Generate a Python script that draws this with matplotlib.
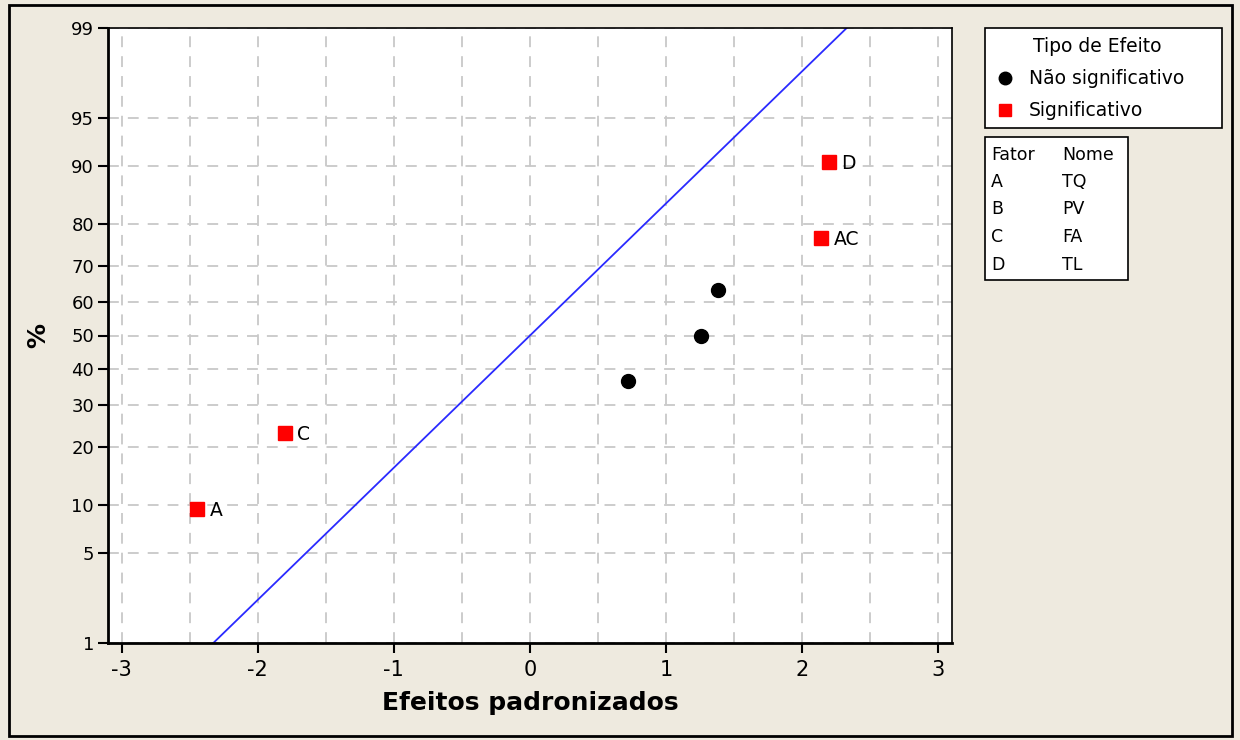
import matplotlib
matplotlib.use("Agg")
import matplotlib.pyplot as plt
from matplotlib.patches import Rectangle
from matplotlib.lines import Line2D
from statistics import NormalDist

nd = NormalDist()

# efeitos padronizados e percentis (Minitab, n = 7)
nomes = ["A", "C", "", "", "", "AC", "D"]
efeitos = [-2.445, -1.80, 0.72, 1.255, 1.38, 2.14, 2.195]
percentis = [9.46, 22.97, 36.49, 50.0, 63.51, 77.03, 90.54]
signif = [True, True, False, False, False, True, True]

# reta de referencia (media e desvio)
reta_media = 0.0
reta_dp = 1.0

y_ticks = [1, 5, 10, 20, 30, 40, 50, 60, 70, 80, 90, 95, 99]
x_ticks = [-3, -2, -1, 0, 1, 2, 3]

fatores = ["A", "B", "C", "D"]
fator_nomes = ["TQ", "PV", "FA", "TL"]

bg = "#EEEADF"
plt.rcParams["font.family"] = ["DejaVu Sans"]

fig = plt.figure(figsize=(12.4, 7.4), dpi=100, facecolor=bg)
ax = fig.add_axes([108 / 1240, 1 - 643 / 740, 844 / 1240, 615 / 740])
ax.set_facecolor("white")

def z(p):
    return nd.inv_cdf(p / 100.0)

zlo, zhi = z(1), z(99)
ax.set_xlim(-3.1, 3.1)
ax.set_ylim(zlo, zhi)

# grade
for gx in [i * 0.5 for i in range(-6, 7)]:
    ax.axvline(gx, color="#C8C8C8", lw=1.3, ls=(0, (6, 5)), zorder=0)
for t in y_ticks:
    ax.axhline(z(t), color="#C8C8C8", lw=1.3, ls=(0, (6, 5)), zorder=0)

# reta normal
zz = [zlo, zhi]
ax.plot([reta_media + reta_dp * v for v in zz], zz, color="#2A2AFF", lw=1.3, zorder=2)

for nm, e, p, s in zip(nomes, efeitos, percentis, signif):
    if s:
        ax.plot(e, z(p), "s", color="#FF0000", ms=10, zorder=3)
    else:
        ax.plot(e, z(p), "o", color="black", ms=10, zorder=3)
    if nm:
        ax.annotate(nm, (e, z(p)), xytext=(9, -1), textcoords="offset points",
                    va="center", ha="left", fontsize=13.5)

ax.set_yticks([z(t) for t in y_ticks])
ax.set_yticklabels([str(t) for t in y_ticks])
ax.set_xticks(x_ticks)
ax.set_xticklabels([str(t) for t in x_ticks])
ax.tick_params(axis="both", direction="out", length=7, width=1.5)
ax.tick_params(axis="y", labelsize=13, pad=3)
ax.tick_params(axis="x", labelsize=15, pad=5)
for s in ["left", "bottom"]:
    ax.spines[s].set_linewidth(2)
for s in ["top", "right"]:
    ax.spines[s].set_linewidth(1.2)

ax.set_xlabel("Efeitos padronizados", fontsize=18, fontweight="bold", labelpad=8)
ax.set_ylabel("%", fontsize=18, fontweight="bold", labelpad=15)

# legenda tipo de efeito
fig.patches.append(Rectangle((985 / 1240, 1 - 128 / 740), 237 / 1240, 100 / 740,
                             transform=fig.transFigure, facecolor="white",
                             edgecolor="black", lw=1.2))
fig.text(1097 / 1240, 1 - 47 / 740, "Tipo de Efeito", ha="center", va="center", fontsize=13.5)
fig.lines.append(Line2D([1005 / 1240], [1 - 78 / 740], marker="o", color="black", ms=9,
                        transform=fig.transFigure))
fig.text(1029 / 1240, 1 - 79 / 740, "Não significativo", ha="left", va="center", fontsize=13.5)
fig.lines.append(Line2D([1005 / 1240], [1 - 110 / 740], marker="s", color="#FF0000", ms=9,
                        transform=fig.transFigure))
fig.text(1029 / 1240, 1 - 111 / 740, "Significativo", ha="left", va="center", fontsize=13.5)

# tabela de fatores
fig.patches.append(Rectangle((985 / 1240, 1 - 280 / 740), 143 / 1240, 143 / 740,
                             transform=fig.transFigure, facecolor="white",
                             edgecolor="black", lw=1.2))
fig.text(991 / 1240, 1 - 155 / 740, "Fator", ha="left", va="center", fontsize=12.5)
fig.text(1062 / 1240, 1 - 155 / 740, "Nome", ha="left", va="center", fontsize=12.5)
for i, (f, n) in enumerate(zip(fatores, fator_nomes)):
    yy = 1 - (182 + i * 27.5) / 740
    fig.text(991 / 1240, yy, f, ha="left", va="center", fontsize=12.5)
    fig.text(1062 / 1240, yy, n, ha="left", va="center", fontsize=12.5)

# moldura externa
fig.patches.append(Rectangle((9 / 1240, 1 - 736 / 740), 1223 / 1240, 731 / 740,
                             transform=fig.transFigure, facecolor="none",
                             edgecolor="black", lw=2))

fig.savefig("out.png", dpi=100, facecolor=bg)
